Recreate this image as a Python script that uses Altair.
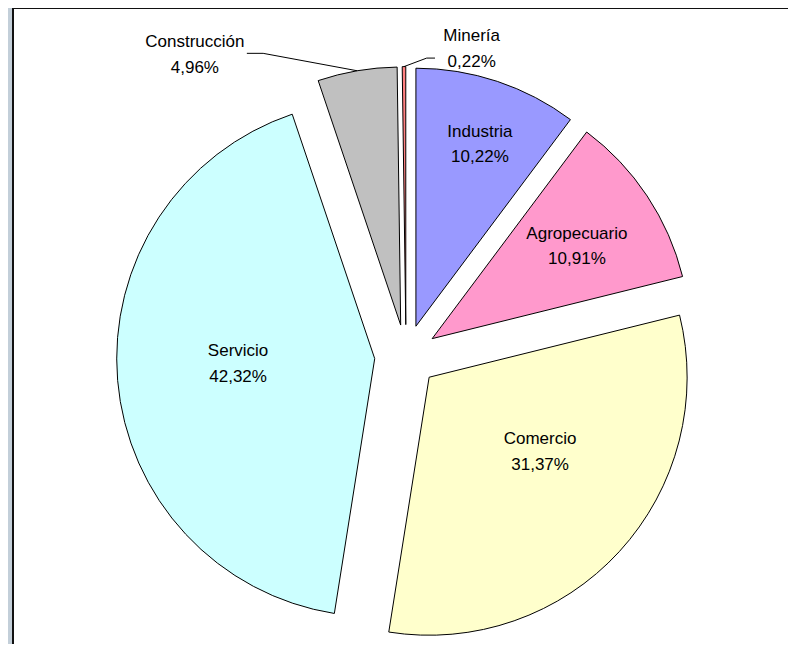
import math
import altair as alt
import pandas as pd

# ---- data ----
categories = ["Industria", "Agropecuario", "Comercio", "Servicio", "Construcción", "Minería"]
shares = [10.22, 10.91, 31.37, 42.32, 4.96, 0.22]
colors = ["#9999ff", "#ff99cc", "#ffffcc", "#ccffff", "#c0c0c0", "#ff8080"]

# ---- layout / style ----
W, H = 775, 636
CX, CY = 393.0, 348.0
R = 258
EXPLODE = 31.4
FONT = "Liberation Sans"
FS = 17
LH = 25.5
# label placement: (angle shift in degrees, radius as fraction of R) measured from slice apex
LABEL_LAYOUT = {
    "Industria": (1.0, 0.747),
    "Agropecuario": (1.1, 0.665),
    "Comercio": (-8.5, 0.519),
    "Servicio": (2.5, 0.530),
    "Construcción": (-27.6, 1.316),
    "Minería": (13.85, 1.098),
}
# leader lines for outside labels: (end dx, elbow dx, dy) relative to label centre
LEADERS = {"Construcción": (52.0, 68.3, -1.7), "Minería": (-36.7, -45.0, 9.0)}

total = sum(shares)
arc_rows, lab_rows, lead_rows = [], [], []
cum = 0.0
for c, v in zip(categories, shares):
    t0 = 2 * math.pi * cum / total
    cum += v
    t1 = 2 * math.pi * cum / total
    mid = (t0 + t1) / 2
    vx = CX + EXPLODE * math.sin(mid)
    vy = CY - EXPLODE * math.cos(mid)
    pct = f"{v:.2f}".replace(".", ",") + "%"
    arc_rows.append(dict(cat=c, t0=t0, t1=t1, vx=vx, vy=vy))
    da, rf = LABEL_LAYOUT[c]
    a = mid + math.radians(da)
    lx = vx + rf * R * math.sin(a)
    ly = vy - rf * R * math.cos(a)
    lab_rows.append(dict(cat=c, txt=c + "\n" + pct, lx=lx, ly=ly))
    if c in LEADERS:
        de, dk, dy = LEADERS[c]
        ax = vx + R * math.sin(mid)
        ay = vy - R * math.cos(mid)
        for k, (px, py) in enumerate([(ax, ay), (lx + dk, ly + dy), (lx + de, ly + dy)]):
            lead_rows.append(dict(cat=c, k=k, px=px, py=py))

arcs_df = pd.DataFrame(arc_rows)
labs_df = pd.DataFrame(lab_rows)
lead_df = pd.DataFrame(lead_rows)

xs = alt.Scale(domain=[0, W], nice=False, zero=False)
ys = alt.Scale(domain=[0, H], nice=False, zero=False, reverse=True)

arcs = alt.Chart(arcs_df).mark_arc(radius=R, stroke="black", strokeWidth=1).encode(
    x=alt.X("vx:Q", scale=xs, axis=None),
    y=alt.Y("vy:Q", scale=ys, axis=None),
    theta=alt.Theta("t0:Q", scale=None),
    theta2=alt.Theta2("t1:Q"),
    color=alt.Color("cat:N", scale=alt.Scale(domain=categories, range=colors), legend=None),
)

leaders = alt.Chart(lead_df).mark_line(color="black", strokeWidth=1).encode(
    x=alt.X("px:Q", scale=xs, axis=None),
    y=alt.Y("py:Q", scale=ys, axis=None),
    detail="cat:N",
    order="k:Q",
)

labels = alt.Chart(labs_df).mark_text(
    font=FONT, fontSize=FS, lineBreak="\n", lineHeight=LH,
    align="center", baseline="middle", color="black", dy=-LH / 2,
).encode(
    x=alt.X("lx:Q", scale=xs, axis=None),
    y=alt.Y("ly:Q", scale=ys, axis=None),
    text="txt:N",
)

frame_df = pd.DataFrame({"a": [0]})
left_edge = alt.Chart(frame_df).mark_rule(color="#111111", strokeWidth=2).encode(
    x=alt.value(0), y=alt.value(0), y2=alt.value(H)
)
top_edge = alt.Chart(frame_df).mark_rule(color="#111111", strokeWidth=2).encode(
    y=alt.value(0), x=alt.value(0), x2=alt.value(W)
)

chart = alt.layer(arcs, leaders, labels, left_edge, top_edge).properties(
    width=W,
    height=H,
    background="#c3cfd9",
    padding={"left": 5, "top": 0, "right": 0, "bottom": 0},
    autosize=alt.AutoSizeParams(type="none"),
).configure_view(fill="white", stroke=None)

chart.save("out.html", embed_options={"renderer": "svg", "actions": False})
